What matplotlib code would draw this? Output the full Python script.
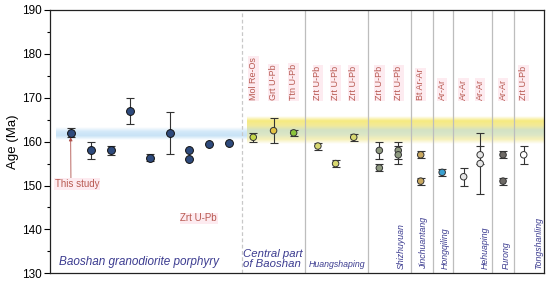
import matplotlib
matplotlib.use("Agg")
import matplotlib.pyplot as plt
import numpy as np
from matplotlib.colors import LinearSegmentedColormap

plt.rcParams['font.family'] = ['Liberation Sans', 'DejaVu Sans']

# sample positions (column units), ages (Ma), 1-sigma errors and fill colours
baoshan_pos = [1.05, 2.07, 3.08, 4.06, 5.08, 6.09, 7.07, 7.07, 8.09, 9.07]
baoshan_age = [162, 158, 158, 167, 156.3, 162, 158, 156, 159.5, 159.8]
baoshan_err = [1, 2, 1, 3, 0.8, 4.8, 0, 0, 0, 0]

other_pos = [10.32, 11.35, 12.37, 13.6, 14.5, 15.42, 16.72, 16.72, 17.68, 17.68,
             18.82, 18.82, 19.91, 21.0, 21.84, 21.84, 23.0, 23.0, 24.05]
other_age = [161, 162.5, 162, 159, 155, 161, 158, 154, 158, 157,
             157, 151, 153, 152, 157, 155, 157, 151, 157]
other_err = [1, 2.9, 0.7, 0.8, 0.8, 0.8, 2, 0.8, 2, 2,
             0.8, 0.8, 0.8, 2, 2, 7, 0.8, 0.8, 2]
other_face = ['#c5d64a', '#e2c244', '#8cc43c', '#d8d870', '#d8d870', '#d8d870',
              '#8f9a80', '#8f9a80', '#8f9a80', '#8f9a80',
              '#c9a860', '#c9a860', '#3aa0d0', '#e6e6e6', '#e6e6e6', '#e6e6e6',
              '#6e6a66', '#6e6a66', '#ffffff']

method_pos = [10.32, 11.35, 12.37, 13.6, 14.5, 15.42, 16.72, 17.68,
              18.82, 19.91, 21.0, 21.84, 23.0, 24.05]
method_txt = ['Mol Re-Os', 'Grt U-Pb', 'Ttn U-Pb', 'Zrt U-Pb', 'Zrt U-Pb', 'Zrt U-Pb',
              'Zrt U-Pb', 'Zrt U-Pb', 'Bt Ar-Ar', 'Ar-Ar', 'Ar-Ar', 'Ar-Ar',
              'Ar-Ar', 'Zrt U-Pb']

site_pos = [17.82, 18.95, 20.09, 22.12, 23.18, 24.82]
site_txt = ['Shizhuyuan', 'Jinchuantang', 'Hongqiling', 'Hehuaping', 'Furong',
            'Tongshanling']

solid_lines = [12.94, 16.16, 18.31, 19.43, 20.47, 22.45, 23.57]
dashed_line = 9.73

fig = plt.figure(figsize=(5.5, 2.83), dpi=100)
ax = fig.add_axes([0.0909, 0.0343, 0.8982, 0.9304])
ax.set_xlim(0, 25.08)
ax.set_ylim(130, 190)

# gradient bands
grad = np.linspace(0, 1, 200).reshape(-1, 1)
blue_cm = LinearSegmentedColormap.from_list('b', ['#ffffff', '#c8e3f6', '#d4e9f9', '#ffffff'])
ax.imshow(grad, cmap=blue_cm, extent=[0.3, 10.0, 160.4, 163.3], aspect='auto',
          origin='lower', zorder=0)
yel_cm = LinearSegmentedColormap.from_list(
    'y', ['#ffffff', '#f6f0b8', '#dce6c6', '#d3e2c4', '#f3ea98', '#f6ea80', '#ffffff'])
ax.imshow(grad, cmap=yel_cm, extent=[10.0, 25.08, 159.4, 165.6], aspect='auto',
          origin='lower', zorder=0)

# separators
ax.axvline(dashed_line, color='#c8c8c8', lw=0.9, ls=(0, (3, 2)), zorder=1)
for xv in solid_lines:
    ax.axvline(xv, color='#bdbdbd', lw=0.9, zorder=1)

# data points
for x, a, e in zip(baoshan_pos, baoshan_age, baoshan_err):
    if e > 0:
        ax.errorbar(x, a, yerr=e, fmt='none', ecolor='#333333', elinewidth=0.8,
                    capsize=3, capthick=0.8, zorder=2)
ax.scatter(baoshan_pos, baoshan_age, s=32, c='#2e4a7c', edgecolors='#111111',
           linewidths=0.7, zorder=3)

for x, a, e in zip(other_pos, other_age, other_err):
    ax.errorbar(x, a, yerr=e, fmt='none', ecolor='#333333', elinewidth=0.8,
                capsize=2.6, capthick=0.8, zorder=2)
ax.scatter(other_pos, other_age, s=22, c=other_face, edgecolors='#333333',
           linewidths=0.7, zorder=3)

# method labels
label_red = '#b85a52'
pink = dict(facecolor='#fdebf0', edgecolor='none', pad=0.6)
for x, t in zip(method_pos, method_txt):
    ax.text(x, 169.5, t, rotation=90, ha='center', va='bottom', fontsize=6.5,
            color=label_red, bbox=pink, zorder=4)
ax.text(7.55, 142.5, 'Zrt U-Pb', ha='center', va='center', fontsize=7,
        color=label_red, bbox=pink)
ax.annotate('This study', xy=(1.05, 161.0), xytext=(0.25, 150.4),
            ha='left', va='center', fontsize=7, color=label_red, bbox=pink,
            arrowprops=dict(arrowstyle='-|>', color='#b0504a', lw=0.6,
                            mutation_scale=5, shrinkA=0, shrinkB=0,
                            relpos=(0.36, 1)))

# site labels
blue_txt = '#3c3c90'
ax.text(4.5, 132.6, 'Baoshan granodiorite porphyry', ha='center', va='center',
        fontsize=8.5, style='italic', color=blue_txt)
ax.text(9.8, 131.0, 'Central part\nof Baoshan', ha='left', va='bottom',
        fontsize=8.2, style='italic', color=blue_txt, linespacing=0.95)
ax.text(14.55, 132.0, 'Huangshaping', ha='center', va='center', fontsize=6.3,
        style='italic', color=blue_txt)
for x, t in zip(site_pos, site_txt):
    ax.text(x, 130.9, t, rotation=90, ha='center', va='bottom', fontsize=6.3,
            style='italic', color=blue_txt)

# axes styling
ax.set_yticks(np.arange(130, 191, 10))
ax.set_yticks(np.arange(135, 190, 10), minor=True)
ax.set_xticks([])
ax.tick_params(axis='y', which='major', direction='out', length=4, width=0.8,
               labelsize=8.5, pad=2)
ax.tick_params(axis='y', which='minor', direction='out', length=2, width=0.8)
for s in ax.spines.values():
    s.set_linewidth(0.9)
    s.set_color('#222222')
ax.set_ylabel('Age (Ma)', fontsize=9.5, labelpad=2)

fig.savefig('out.png', dpi=100)
